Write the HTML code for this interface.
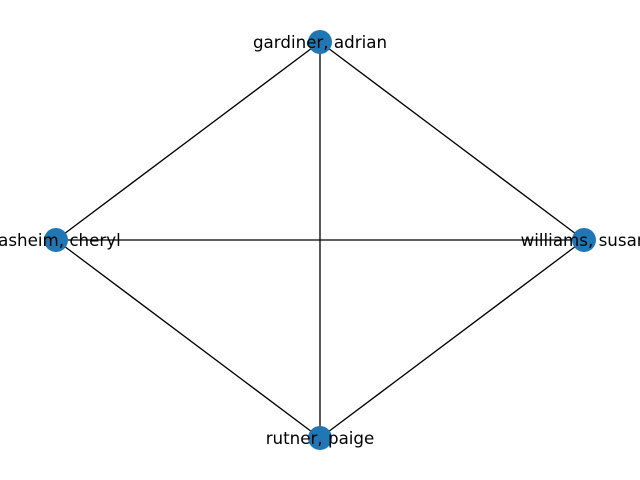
<!DOCTYPE html>
<html><head><meta charset="utf-8"><style>
html,body{margin:0;padding:0;background:#fff;width:640px;height:480px;overflow:hidden}
text{font-family:"DejaVu Sans","Liberation Sans",sans-serif;font-size:16.7px}
</style></head><body>
<svg id="chart" width="640" height="480" viewBox="0 0 640 480" xmlns="http://www.w3.org/2000/svg">
<rect width="640" height="480" fill="#fff"/>
<g id="edges"></g><g id="nodes"></g><g id="labels"></g>
</svg>
<script>
const nodeNames = ["gardiner, adrian","rasheim, cheryl","williams, susan","rutner, paige"];
const nodeX = [0,-1,1,0];
const nodeY = [1,0,0,-1];
const edgeSources = [0,0,0,1,1,2];
const edgeTargets = [1,2,3,2,3,3];
const xs = x => 320 + 264*x;
const ys = y => 240 - 198*y;
const NS = "http://www.w3.org/2000/svg";
const gE = document.getElementById('edges'), gN = document.getElementById('nodes'), gL = document.getElementById('labels');
for (let i=0;i<edgeSources.length;i++){
  const a=edgeSources[i], b=edgeTargets[i];
  const l=document.createElementNS(NS,'line');
  l.setAttribute('x1',xs(nodeX[a]));l.setAttribute('y1',ys(nodeY[a]));
  l.setAttribute('x2',xs(nodeX[b]));l.setAttribute('y2',ys(nodeY[b]));
  l.setAttribute('stroke','#000');l.setAttribute('stroke-width','1.3');
  
  
  gE.appendChild(l);
}
for (let i=0;i<nodeNames.length;i++){
  const c=document.createElementNS(NS,'circle');
  c.setAttribute('cx',xs(nodeX[i]));c.setAttribute('cy',ys(nodeY[i]));c.setAttribute('r',12);
  c.setAttribute('fill','#1f77b4');
  
  
  gN.appendChild(c);
  const t=document.createElementNS(NS,'text');
  t.setAttribute('x',xs(nodeX[i]));t.setAttribute('y',ys(nodeY[i])+6);
  t.setAttribute('text-anchor','middle');
  t.textContent=nodeNames[i];
  
  
  gL.appendChild(t);
}
</script>
</body></html>
